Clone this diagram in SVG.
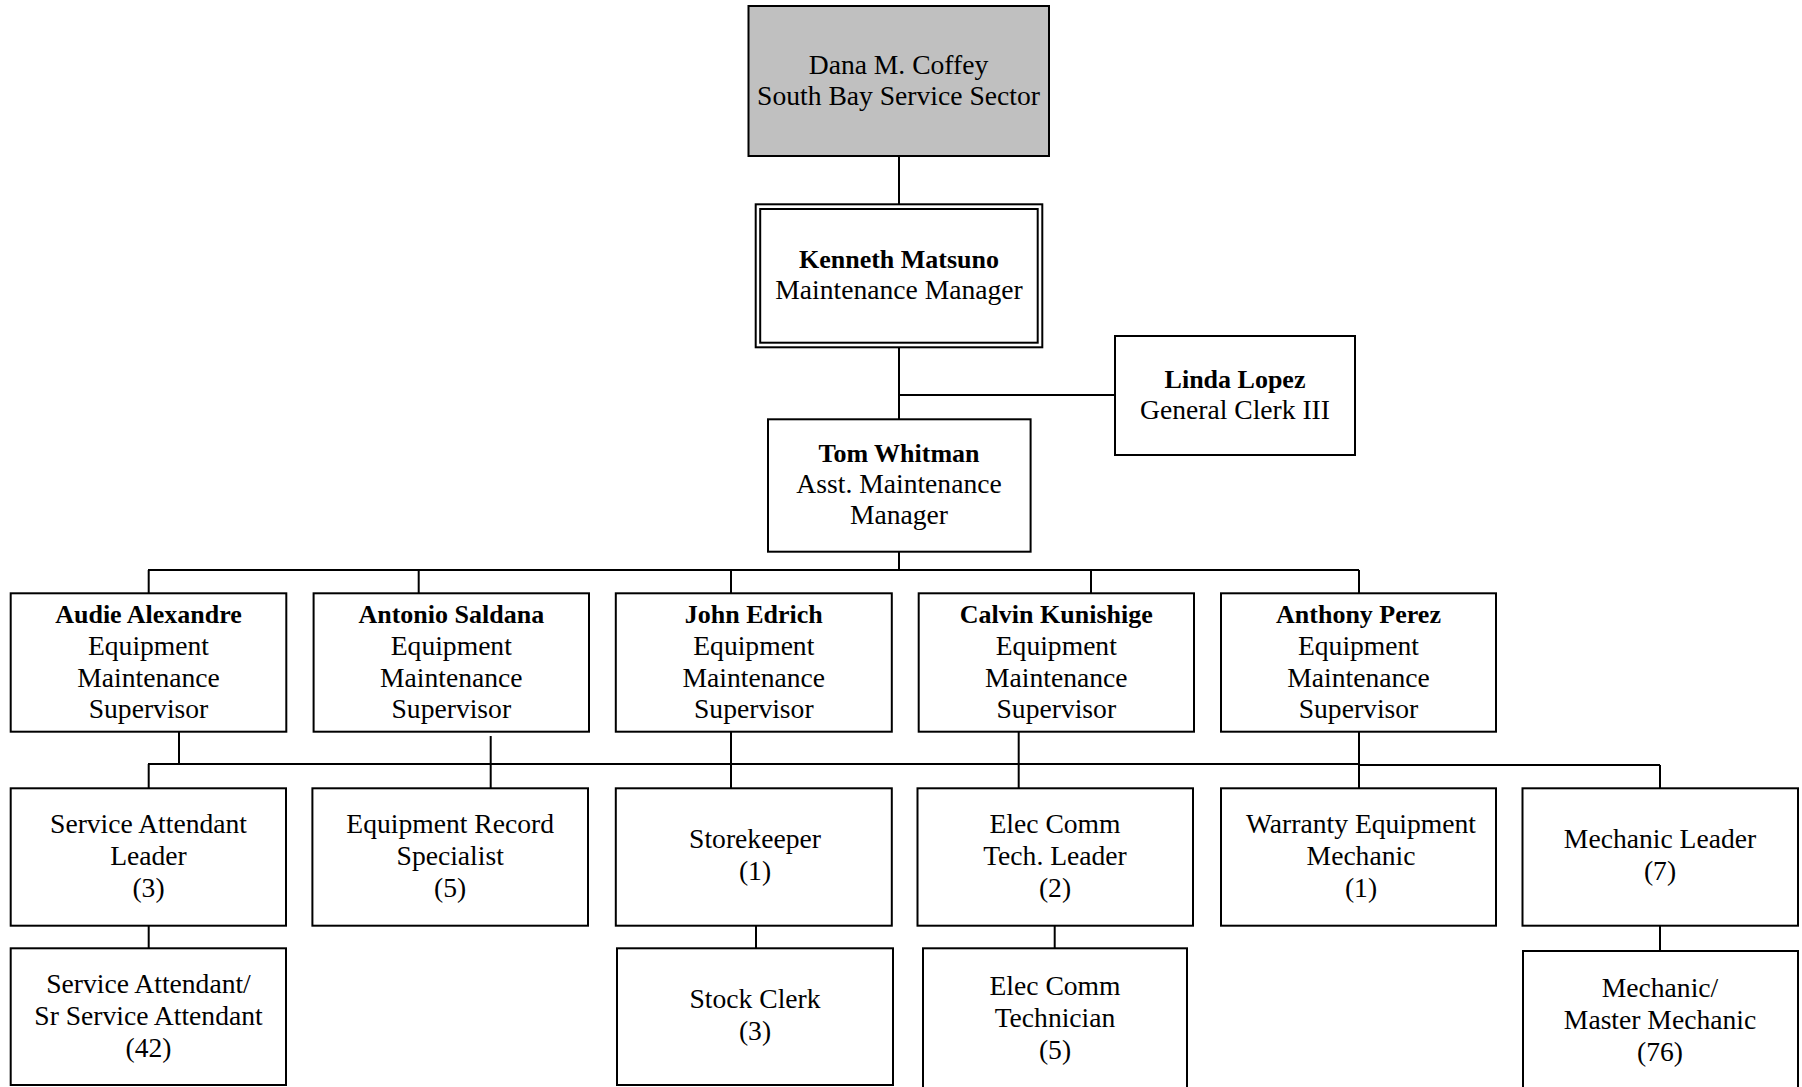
<svg xmlns="http://www.w3.org/2000/svg" width="1802" height="1087" viewBox="0 0 1802 1087">
<style>
.box{fill:#fff;stroke:#000;stroke-width:2}
.grey{fill:#c0c0c0}
.t{font-family:"Liberation Serif","Times New Roman",serif;font-size:27.6px;text-anchor:middle;fill:#000}
.b{font-weight:bold;font-size:26px}
.c{fill:none;stroke:#000;stroke-width:2}
</style>
<rect width="1802" height="1087" fill="#fff"/>
<g id="connectors" class="c">
<path d="M899 156V204"/>
<path d="M899 348V419"/>
<path d="M899 395H1115"/>
<path d="M899 552V570"/>
<path d="M148 570H1359"/>
<path d="M148.7 570V593M418.7 570V593M731 570V593M1091 570V593M1359 570V593"/>
<path d="M148 764H1359V765H1660"/>
<path d="M179 732V764"/>
<path d="M490.7 736V788"/>
<path d="M731 732V788"/>
<path d="M1018.7 732V788"/>
<path d="M1359 732V788"/>
<path d="M148.7 764V788"/>
<path d="M1660 765V788"/>
<path d="M148.7 926V948"/>
<path d="M756 923V948"/>
<path d="M1054.7 926V948"/>
<path d="M1660 926V951"/>
</g>
<g id="dana">
<rect class="box grey" x="748.5" y="6" width="300.5" height="150"/>
<text class="t" x="898.5" y="74">Dana M. Coffey</text>
<text class="t" x="898.5" y="104.5">South Bay Service Sector</text>
</g>
<g id="kenneth">
<rect class="box" x="755.7" y="204.3" width="286.6" height="143"/>
<rect class="box" x="760.2" y="209" width="277.5" height="133.7"/>
<text class="t b" x="899" y="268">Kenneth Matsuno</text>
<text class="t" x="899" y="299">Maintenance Manager</text>
</g>
<g id="linda">
<rect class="box" x="1115" y="336" width="240" height="119"/>
<text class="t b" x="1235" y="388">Linda Lopez</text>
<text class="t" x="1235" y="419">General Clerk III</text>
</g>
<g id="tom">
<rect class="box" x="768" y="419.3" width="262.6" height="132.4"/>
<text class="t b" x="899" y="462">Tom Whitman</text>
<text class="t" x="899" y="493">Asst. Maintenance</text>
<text class="t" x="899" y="524">Manager</text>
</g>
<g id="audie">
<rect class="box" x="10.7" y="593.3" width="275.6" height="138.4"/>
<text class="t b" x="148.5" y="623">Audie Alexandre</text>
<text class="t" x="148.5" y="655">Equipment</text>
<text class="t" x="148.5" y="687">Maintenance</text>
<text class="t" x="148.5" y="718">Supervisor</text>
</g>
<g id="antonio">
<rect class="box" x="313.6" y="593.3" width="275.4" height="138.4"/>
<text class="t b" x="451.3" y="623">Antonio Saldana</text>
<text class="t" x="451.3" y="655">Equipment</text>
<text class="t" x="451.3" y="687">Maintenance</text>
<text class="t" x="451.3" y="718">Supervisor</text>
</g>
<g id="john">
<rect class="box" x="615.8" y="593.3" width="276" height="138.4"/>
<text class="t b" x="753.8" y="623">John Edrich</text>
<text class="t" x="753.8" y="655">Equipment</text>
<text class="t" x="753.8" y="687">Maintenance</text>
<text class="t" x="753.8" y="718">Supervisor</text>
</g>
<g id="calvin">
<rect class="box" x="918.7" y="593.3" width="275.3" height="138.4"/>
<text class="t b" x="1056.3" y="623">Calvin Kunishige</text>
<text class="t" x="1056.3" y="655">Equipment</text>
<text class="t" x="1056.3" y="687">Maintenance</text>
<text class="t" x="1056.3" y="718">Supervisor</text>
</g>
<g id="anthony">
<rect class="box" x="1221" y="593.3" width="275" height="138.4"/>
<text class="t b" x="1358.5" y="623">Anthony Perez</text>
<text class="t" x="1358.5" y="655">Equipment</text>
<text class="t" x="1358.5" y="687">Maintenance</text>
<text class="t" x="1358.5" y="718">Supervisor</text>
</g>
<g id="sa-leader">
<rect class="box" x="10.7" y="788.3" width="275.3" height="137.4"/>
<text class="t" x="148.5" y="833">Service Attendant</text>
<text class="t" x="148.5" y="865">Leader</text>
<text class="t" x="148.5" y="897">(3)</text>
</g>
<g id="eq-record">
<rect class="box" x="312.4" y="788.3" width="275.6" height="137.4"/>
<text class="t" x="450.2" y="833">Equipment Record</text>
<text class="t" x="450.2" y="865">Specialist</text>
<text class="t" x="450.2" y="897">(5)</text>
</g>
<g id="storekeeper">
<rect class="box" x="615.8" y="788.3" width="276" height="137.4"/>
<text class="t" x="755" y="848">Storekeeper</text>
<text class="t" x="755" y="880">(1)</text>
</g>
<g id="elec-leader">
<rect class="box" x="917.5" y="788.3" width="275.5" height="137.4"/>
<text class="t" x="1055" y="833">Elec Comm</text>
<text class="t" x="1055" y="865">Tech. Leader</text>
<text class="t" x="1055" y="897">(2)</text>
</g>
<g id="warranty">
<rect class="box" x="1221" y="788.3" width="275" height="137.4"/>
<text class="t" x="1361" y="833">Warranty Equipment</text>
<text class="t" x="1361" y="865">Mechanic</text>
<text class="t" x="1361" y="897">(1)</text>
</g>
<g id="mech-leader">
<rect class="box" x="1522.5" y="788.3" width="275.5" height="137.4"/>
<text class="t" x="1660" y="848">Mechanic Leader</text>
<text class="t" x="1660" y="880">(7)</text>
</g>
<g id="sa">
<rect class="box" x="10.7" y="948.3" width="275.3" height="136.7"/>
<text class="t" x="148.5" y="993">Service Attendant/</text>
<text class="t" x="148.5" y="1025">Sr Service Attendant</text>
<text class="t" x="148.5" y="1057">(42)</text>
</g>
<g id="stock-clerk">
<rect class="box" x="617" y="948.3" width="276" height="136.7"/>
<text class="t" x="755" y="1008">Stock Clerk</text>
<text class="t" x="755" y="1040">(3)</text>
</g>
<g id="elec-tech">
<rect class="box" x="923" y="948.3" width="264" height="150"/>
<text class="t" x="1055" y="995">Elec Comm</text>
<text class="t" x="1055" y="1027">Technician</text>
<text class="t" x="1055" y="1059">(5)</text>
</g>
<g id="mechanic">
<rect class="box" x="1523" y="951" width="275" height="150"/>
<text class="t" x="1660" y="997">Mechanic/</text>
<text class="t" x="1660" y="1029">Master Mechanic</text>
<text class="t" x="1660" y="1061">(76)</text>
</g>
</svg>
